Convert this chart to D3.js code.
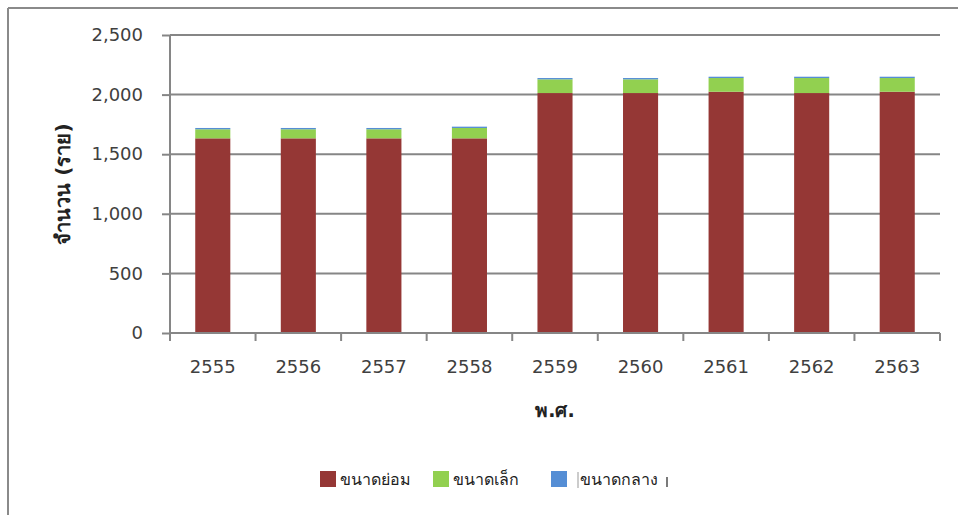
<!DOCTYPE html>
<html>
<head>
<meta charset="utf-8">
<script src="https://cdn.jsdelivr.net/npm/d3@7"></script>
<style>
  html, body { margin: 0; padding: 0; background: #fff; }
  svg { display: block; font-family: "DejaVu Sans", "Noto Sans", sans-serif; }
</style>
</head>
<body>
<svg id="chart" width="958" height="515"></svg>
<script>
const years = ["2555", "2556", "2557", "2558", "2559", "2560", "2561", "2562", "2563"];
const seriesNames = ["ขนาดย่อม", "ขนาดเล็ก", "ขนาดกลาง"];
const seriesColors = ["#953735", "#92D050", "#558ED5"];
const micro = [1633, 1633, 1633, 1633, 2013, 2013, 2024, 2013, 2024];
const small = [76, 76, 76, 87, 115, 115, 115, 126, 115];
const medium = [11, 11, 11, 11, 11, 11, 11, 11, 11];
const yTicks = [0, 500, 1000, 1500, 2000, 2500];
const yTitle = "จำนวน (ราย)";
const xTitle = "พ.ศ.";

const svg = d3.select("#chart");
const mLeft = 170, mRight = 940, mTop = 35, mBottom = 333;
const gridColor = "#868686";
const textColor = "#404040";

// outer frame (top + left only visible)
svg.append("line").attr("x1", 8).attr("x2", 958).attr("y1", 8).attr("y2", 8)
  .attr("stroke", "#8a8a8a").attr("stroke-width", 2);
svg.append("line").attr("x1", 8).attr("x2", 8).attr("y1", 8).attr("y2", 515)
  .attr("stroke", "#8a8a8a").attr("stroke-width", 2);

const x = d3.scaleBand().domain(years).range([mLeft, mRight]).paddingInner(0.59).paddingOuter(0.295);
const y = d3.scaleLinear().domain([0, 2500]).range([mBottom, mTop]);

// gridlines
svg.append("g").selectAll("line").data(yTicks.filter(d => d > 0)).join("line")
  .attr("x1", mLeft).attr("x2", mRight)
  .attr("y1", d => y(d)).attr("y2", d => y(d))
  .attr("stroke", gridColor).attr("stroke-width", 2);

// stacked data
const rows = years.map((yr, i) => ({ year: yr, a: micro[i], b: small[i], c: medium[i] }));
const stack = d3.stack().keys(["a", "b", "c"])(rows);

svg.append("g").selectAll("g").data(stack).join("g")
  .attr("fill", (d, i) => seriesColors[i])
  .selectAll("rect").data(d => d).join("rect")
  .attr("x", d => x(d.data.year))
  .attr("width", x.bandwidth())
  .attr("y", d => y(d[1]))
  .attr("height", d => y(d[0]) - y(d[1]));

// y axis
const yAxis = d3.axisLeft(y).tickValues(yTicks).tickFormat(d3.format(",")).tickSize(8).tickPadding(19);
const gy = svg.append("g").attr("transform", `translate(${mLeft},0)`).call(yAxis);
gy.select(".domain").attr("stroke", gridColor).attr("stroke-width", 2).attr("d", `M0,${mTop}V${mBottom}`);
gy.selectAll(".tick line").attr("stroke", gridColor).attr("stroke-width", 2);
gy.selectAll(".tick text").attr("fill", textColor).style("font-size", "18px").style("font-family", "DejaVu Sans, sans-serif");

// x axis with boundary ticks
const gx = svg.append("g").attr("transform", `translate(0,${mBottom})`);
gx.append("line").attr("x1", mLeft).attr("x2", mRight).attr("y1", 0).attr("y2", 0)
  .attr("stroke", gridColor).attr("stroke-width", 2);
const step = x.step();
const bounds = years.map((d, i) => x(d) - x.paddingInner() * step / 2).concat([mRight]);
bounds[0] = mLeft;
gx.selectAll("line.tk").data(bounds).join("line").attr("class", "tk")
  .attr("x1", d => d).attr("x2", d => d).attr("y1", 0).attr("y2", 8)
  .attr("stroke", gridColor).attr("stroke-width", 2);
gx.selectAll("text").data(years).join("text")
  .attr("x", d => x(d) + x.bandwidth() / 2)
  .attr("y", 34)
  .attr("dy", "0.35em")
  .attr("text-anchor", "middle")
  .attr("fill", textColor)
  .style("font-size", "18px")
  .text(d => d);

// axis titles
svg.append("text").attr("x", (mLeft + mRight) / 2).attr("y", 410).attr("dy", "0.35em")
  .attr("text-anchor", "middle").attr("fill", "#222").style("font-size", "19px").style("font-weight", "bold")
  .text(xTitle);
svg.append("text").attr("transform", `translate(63,${(mTop + mBottom) / 2}) rotate(-90)`)
  .attr("dy", "0.35em").attr("text-anchor", "middle").attr("fill", "#222")
  .style("font-size", "20px").style("font-weight", "bold").text(yTitle);

// legend
const legendX = [320, 433, 551];
const lg = svg.append("g").selectAll("g").data(seriesNames).join("g")
  .attr("transform", (d, i) => `translate(${legendX[i]},471)`);
lg.append("rect").attr("width", 16).attr("height", 16).attr("fill", (d, i) => seriesColors[i]);
lg.append("text").attr("x", (d, i) => i === 2 ? 29 : 20).attr("y", 8).attr("dy", "0.35em")
  .attr("fill", "#222").style("font-size", "16px").text(d => d);
// small cursor-like marks seen in the reference legend
svg.append("line").attr("x1", 578).attr("x2", 578).attr("y1", 472).attr("y2", 488).attr("stroke", "#999").attr("stroke-width", 1);
svg.append("line").attr("x1", 667).attr("x2", 667).attr("y1", 477).attr("y2", 487).attr("stroke", "#222").attr("stroke-width", 1.2);
</script>
</body>
</html>
